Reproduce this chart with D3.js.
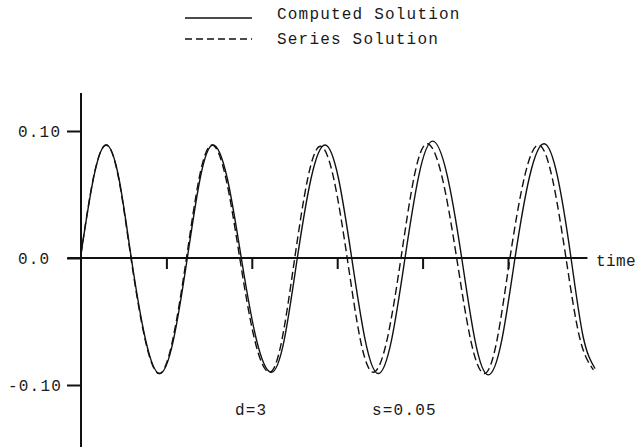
<!DOCTYPE html>
<meta charset="utf-8">
<style>
body { margin: 0; background: #fff; }
text { font-family: "Liberation Mono", "DejaVu Sans Mono", monospace; font-size: 16px; letter-spacing: 1.2px; fill: #1a1a1a; }
.curve { fill: none; stroke: #111; stroke-width: 1.4px; }
.dash { stroke-dasharray: 8,4; }
.axis path { display: none; }
.axis line { stroke: #111; stroke-width: 2px; }
</style>
<body>
<script src="https://d3js.org/d3.v7.min.js"></script>
<script>
// computed solution: time, value
var compT = [0.000,0.150,0.296,0.443,0.589,0.755,0.922,1.084,1.245,1.396,1.546,1.712,1.877,2.053,2.228,2.381,2.533,2.695,2.857,3.014,3.170,3.326,3.481,3.638,3.794,3.956,4.118,4.288,4.458,4.614,4.769,4.926,5.082,5.252,5.422,5.580,5.738,5.880,6.019];
var compV = [0.003,0.064,0.089,0.063,0.000,-0.064,-0.091,-0.064,0.000,0.063,0.089,0.063,0.000,-0.064,-0.090,-0.064,0.000,0.063,0.089,0.063,0.000,-0.064,-0.091,-0.064,0.000,0.065,0.092,0.065,0.000,-0.065,-0.092,-0.065,0.000,0.064,0.090,0.064,0.000,-0.062,-0.087];

// series solution
var serT = [0.000,0.148,0.296,0.440,0.585,0.750,0.916,1.075,1.235,1.384,1.534,1.696,1.859,2.032,2.205,2.354,2.503,2.653,2.804,2.961,3.117,3.270,3.423,3.585,3.747,3.901,4.054,4.227,4.399,4.561,4.722,4.873,5.023,5.190,5.357,5.518,5.679,5.840,6.000];
var serV = [0.003,0.064,0.089,0.063,0.000,-0.064,-0.091,-0.064,0.000,0.063,0.089,0.063,0.000,-0.064,-0.090,-0.064,0.000,0.062,0.088,0.062,0.000,-0.064,-0.090,-0.064,0.000,0.064,0.090,0.064,0.000,-0.064,-0.091,-0.064,0.000,0.063,0.089,0.063,0.000,-0.063,-0.088];

var timeTicks = [1,2,3,4,5];
var yTicks = [0.1, 0, -0.1];
var yLabels = ["0.10", "0.0", "-0.10"];

var width = 638, height = 447;

var svg = d3.select("body").append("svg")
    .attr("width", width)
    .attr("height", height);

var x = d3.scaleLinear().domain([0, 6]).range([81, 593.4]);
var y = d3.scaleLinear().domain([-0.1, 0.1]).range([385, 131]);

var line = d3.line()
    .x(function(d) { return x(d[0]); })
    .y(function(d) { return y(d[1]); })
    .curve(d3.curveNatural);

var comp = compT.map(function(t, i) { return [t, compV[i]]; });
var ser = serT.map(function(t, i) { return [t, serV[i]]; });

// time axis
svg.append("line")
    .attr("x1", x(-0.16)).attr("x2", x(5.93))
    .attr("y1", y(0)).attr("y2", y(0))
    .attr("stroke", "#111").attr("stroke-width", 2);

svg.append("g")
    .attr("class", "axis")
    .attr("transform", "translate(0," + y(0) + ")")
    .call(d3.axisBottom(x).tickValues(timeTicks).tickSize(11).tickFormat(""))
  .selectAll("line").attr("stroke-width", 1.3);

svg.append("text")
    .attr("x", 596).attr("y", y(0) + 8)
    .style("letter-spacing", "0.4px")
    .text("time");

// value axis
svg.append("line")
    .attr("x1", x(0)).attr("x2", x(0))
    .attr("y1", 93).attr("y2", height)
    .attr("stroke", "#111").attr("stroke-width", 2);

var yAxis = svg.append("g")
    .attr("class", "axis")
    .attr("transform", "translate(" + x(0) + ",0)")
    .call(d3.axisLeft(y).tickValues(yTicks).tickSize(14)
      .tickFormat(function(d, i) { return yLabels[i]; }));
yAxis.selectAll("text")
    .attr("text-anchor", "start")
    .attr("x", function(d) { return d < 0 ? -73 : -63; });

// curves
svg.append("path").datum(ser).attr("class", "curve dash").attr("d", line);
svg.append("path").datum(comp).attr("class", "curve").attr("d", line);

// legend
svg.append("line").attr("x1", 185).attr("x2", 252).attr("y1", 18).attr("y2", 18)
    .attr("stroke", "#111").attr("stroke-width", 1.3);
svg.append("line").attr("x1", 185).attr("x2", 252).attr("y1", 39).attr("y2", 39)
    .attr("stroke", "#111").attr("stroke-width", 1.3).attr("stroke-dasharray", "7,4");
svg.append("text").attr("x", 277).attr("y", 19).text("Computed Solution");
svg.append("text").attr("x", 277).attr("y", 44).text("Series Solution");

// parameters
svg.append("text").attr("x", 235).attr("y", 415).text("d=3");
svg.append("text").attr("x", 372).attr("y", 415).text("s=0.05");
</script>
</body>
